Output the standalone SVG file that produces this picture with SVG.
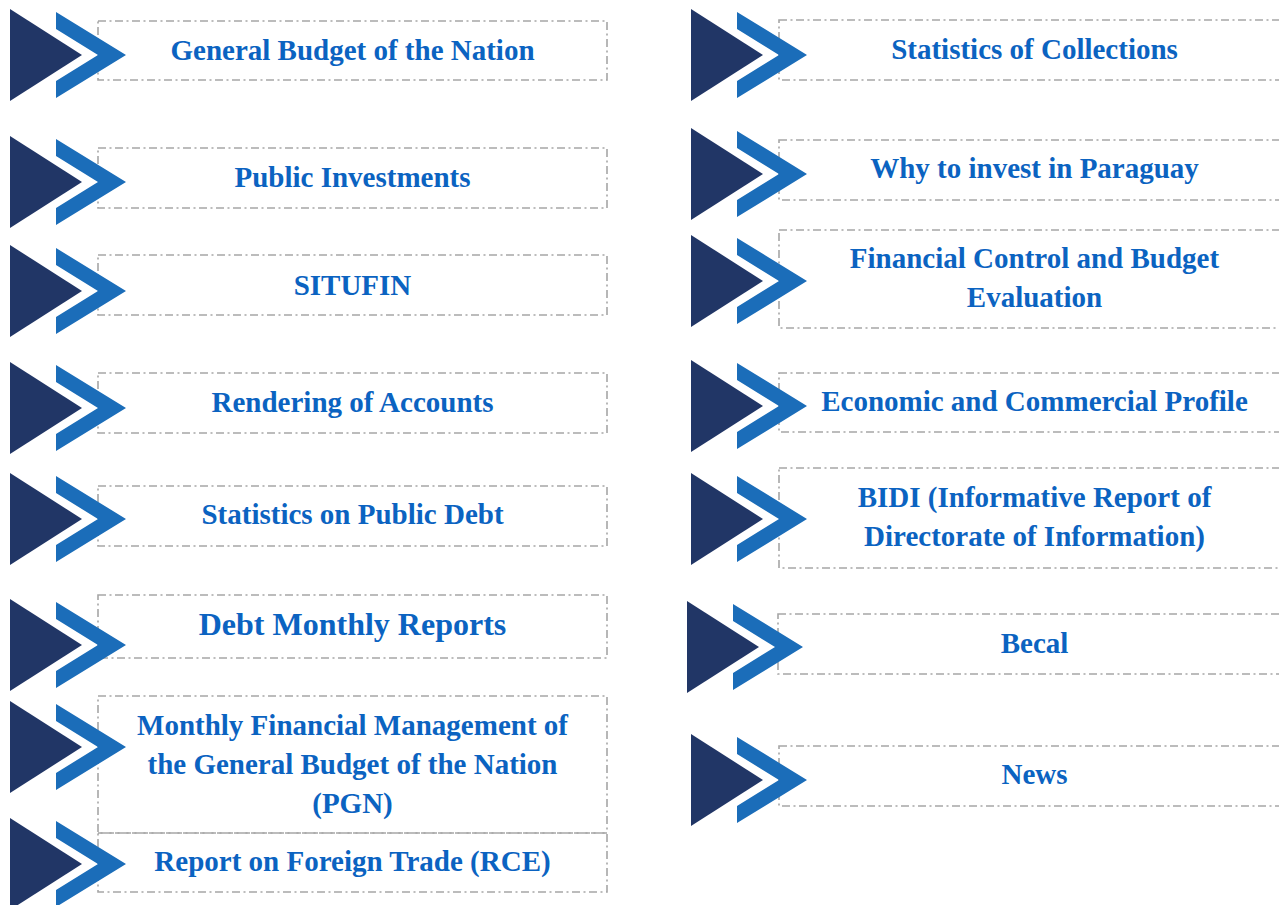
<svg xmlns="http://www.w3.org/2000/svg" xmlns:xlink="http://www.w3.org/1999/xlink" width="1279" height="905" viewBox="0 0 1279 905">
  <style>
    .box { fill: none; stroke: #a6a6a6; stroke-width: 1.6; stroke-dasharray: 8 3.5 2 3.5; }
    .lbl { font-weight: 700; font-size: 29px; fill: #0b63c1; text-anchor: middle; }
    .big { font-size: 32px; }
    .tri { fill: #213666; }
    .chev { fill: #1b6db9; }
  </style>
  <defs>
    <!-- double-arrow bullet, centred vertically on y=0 -->
    <g id="bullet">
      <polygon class="tri" points="10,-46 82,0 10,46"/>
      <polygon class="chev" points="56,-43 126,0 56,43 56,26 98,0 56,-26"/>
    </g>
  </defs>
  <rect width="1279" height="905" fill="#ffffff"/>

  <g font-family="Liberation Serif, Tinos, Times New Roman, DejaVu Serif, serif">
  <!-- left column -->
  <g id="node-general-budget">
    <rect class="box" x="98" y="21" width="509" height="59"/>
    <use xlink:href="#bullet" href="#bullet" x="0" y="55"/>
    <text class="lbl" x="352.5" y="60">General Budget of the Nation</text>
  </g>
  <g id="node-public-investments">
    <rect class="box" x="98" y="148" width="509" height="60"/>
    <use xlink:href="#bullet" href="#bullet" x="0" y="182"/>
    <text class="lbl" x="352.5" y="187">Public Investments</text>
  </g>
  <g id="node-situfin">
    <rect class="box" x="98" y="255" width="509" height="60"/>
    <use xlink:href="#bullet" href="#bullet" x="0" y="291"/>
    <text class="lbl" x="352.5" y="295">SITUFIN</text>
  </g>
  <g id="node-rendering">
    <rect class="box" x="98" y="373" width="509" height="60"/>
    <use xlink:href="#bullet" href="#bullet" x="0" y="408"/>
    <text class="lbl" x="352.5" y="412">Rendering of Accounts</text>
  </g>
  <g id="node-public-debt">
    <rect class="box" x="98" y="486" width="509" height="60"/>
    <use xlink:href="#bullet" href="#bullet" x="0" y="519"/>
    <text class="lbl" x="352.5" y="524">Statistics on Public Debt</text>
  </g>
  <g id="node-debt-monthly">
    <rect class="box" x="98" y="595" width="509" height="63"/>
    <use xlink:href="#bullet" href="#bullet" x="0" y="645"/>
    <text class="lbl big" x="352.5" y="635">Debt Monthly Reports</text>
  </g>
  <g id="node-monthly-financial">
    <rect class="box" x="98" y="696" width="509" height="137"/>
    <use xlink:href="#bullet" href="#bullet" x="0" y="747"/>
    <text class="lbl" x="352.5" y="735">Monthly Financial Management of</text>
    <text class="lbl" x="352.5" y="774">the General Budget of the Nation</text>
    <text class="lbl" x="352.5" y="813">(PGN)</text>
  </g>
  <g id="node-foreign-trade">
    <rect class="box" x="98" y="833" width="509" height="59"/>
    <use xlink:href="#bullet" href="#bullet" x="0" y="864"/>
    <text class="lbl" x="352.5" y="871">Report on Foreign Trade (RCE)</text>
  </g>

  <!-- right column -->
  <g id="node-collections">
    <rect class="box" x="779" y="20" width="511" height="60"/>
    <use xlink:href="#bullet" href="#bullet" x="681" y="55"/>
    <text class="lbl" x="1034.5" y="59">Statistics of Collections</text>
  </g>
  <g id="node-invest-paraguay">
    <rect class="box" x="779" y="140" width="511" height="60"/>
    <use xlink:href="#bullet" href="#bullet" x="681" y="174"/>
    <text class="lbl" x="1034.5" y="178">Why to invest in Paraguay</text>
  </g>
  <g id="node-financial-control">
    <rect class="box" x="779" y="230" width="511" height="98"/>
    <use xlink:href="#bullet" href="#bullet" x="681" y="281"/>
    <text class="lbl" x="1034.5" y="268">Financial Control and Budget</text>
    <text class="lbl" x="1034.5" y="307">Evaluation</text>
  </g>
  <g id="node-economic-profile">
    <rect class="box" x="779" y="373" width="511" height="59"/>
    <use xlink:href="#bullet" href="#bullet" x="681" y="406"/>
    <text class="lbl" x="1034.5" y="411">Economic and Commercial Profile</text>
  </g>
  <g id="node-bidi">
    <rect class="box" x="779" y="468" width="511" height="100"/>
    <use xlink:href="#bullet" href="#bullet" x="681" y="519"/>
    <text class="lbl" x="1034.5" y="507">BIDI (Informative Report of</text>
    <text class="lbl" x="1034.5" y="546">Directorate of Information)</text>
  </g>
  <g id="node-becal">
    <rect class="box" x="778" y="614" width="512" height="60"/>
    <use xlink:href="#bullet" href="#bullet" x="677" y="647"/>
    <text class="lbl" x="1034.5" y="653">Becal</text>
  </g>
  <g id="node-news">
    <rect class="box" x="779" y="746" width="511" height="60"/>
    <use xlink:href="#bullet" href="#bullet" x="681" y="780"/>
    <text class="lbl" x="1034.5" y="784">News</text>
  </g>
  </g>

  <!-- no connectors between the items -->
  <g id="connectors"/>
</svg>
